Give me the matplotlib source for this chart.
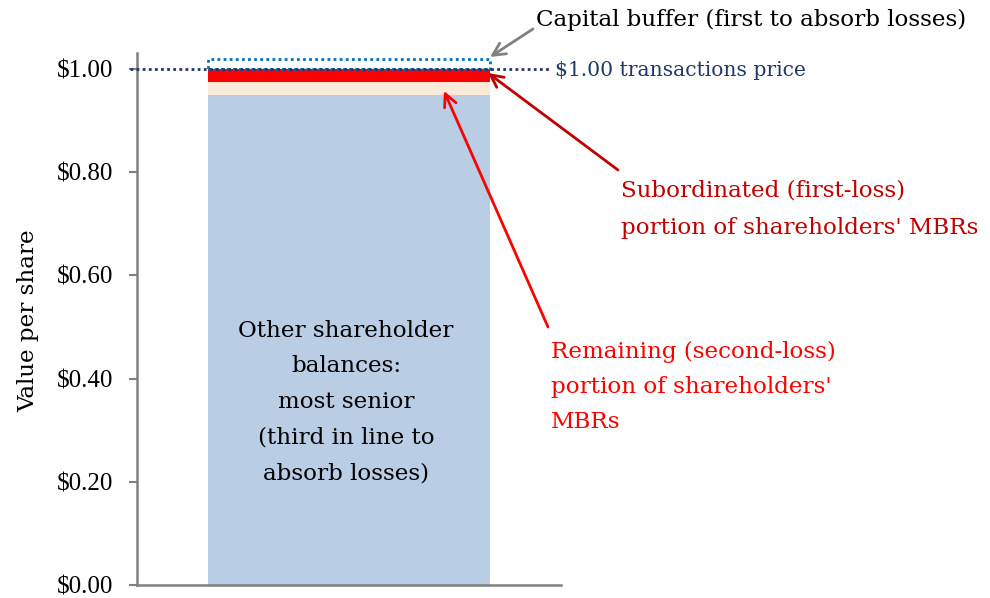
import matplotlib
matplotlib.use("Agg")
import matplotlib.pyplot as plt
from matplotlib.ticker import FuncFormatter

# Data
segments = ["Other shareholder balances", "Remaining (second-loss)", "Subordinated (first-loss)"]
values = [0.95, 0.025, 0.025]
seg_colors = ["#B9CDE5", "#FDE9D9", "#FF0000"]
buffer_value = 0.02
price = 1.00
yticks = [0.0, 0.2, 0.4, 0.6, 0.8, 1.0]

W, H = 990, 598
fig = plt.figure(figsize=(W / 100, H / 100), dpi=100)
L, R, B, T = 137, 561, 585, 53
ax = fig.add_axes([L / W, 1 - B / H, (R - L) / W, (B - T) / H])

ppu = (B - 69) / 1.0
ymax = (B - T) / ppu
ax.set_ylim(0, ymax)
ax.set_xlim(-0.5, 0.5)

def px2d(px, py):
    return ((px - L) / (R - L) - 0.5, (B - py) / ppu)

bw = 0.663
bottom = 0.0
for v, c in zip(values, seg_colors):
    ax.bar(0, v, bottom=bottom, width=bw, color=c, edgecolor="none", zorder=2)
    bottom += v

# capital buffer dotted box
ax.bar(0, buffer_value, bottom=price, width=bw, fill=False, edgecolor="#0070C0",
       linestyle=(0, (1, 1.2)), linewidth=2, zorder=3, clip_on=False)

# price line
x0, _ = px2d(130, 0)
x1, _ = px2d(550, 0)
ax.plot([x0, x1], [price, price], color="#1F3864", linestyle=(0, (1, 1.2)),
        linewidth=2, clip_on=False, zorder=4)

for s in ["top", "right"]:
    ax.spines[s].set_visible(False)
for s in ["left", "bottom"]:
    ax.spines[s].set_color("#808080")
    ax.spines[s].set_linewidth(1.8)

ax.set_xticks([])
ax.set_yticks(yticks)
ax.yaxis.set_major_formatter(FuncFormatter(lambda v, p: f"${v:.2f}"))
ax.tick_params(axis="y", direction="out", length=6, width=1.5, color="#808080",
               labelsize=18, pad=11)
for lab in ax.get_yticklabels():
    lab.set_family("Liberation Serif")

serif = "DejaVu Serif"
fs = 16.6

fig.text(28 / W, 1 - 321 / H, "Value per share", rotation=90, ha="center", va="center",
         family=serif, fontsize=fs)

tx, ty = px2d(536, 20)
ax.text(tx, ty, "Capital buffer (first to absorb losses)", ha="left", va="center",
        family=serif, fontsize=fs, color="black", clip_on=False)
tx, ty = px2d(555, 71)
ax.text(tx, ty, "$1.00 transactions price", ha="left", va="center",
        family=serif, fontsize=14.6, color="#1F3864", clip_on=False)
tx, ty = px2d(621, 209)
ax.text(tx, ty, "Subordinated (first-loss)\nportion of shareholders' MBRs", ha="left",
        va="center", family=serif, fontsize=fs, color="#C00000", linespacing=1.9,
        clip_on=False)
tx, ty = px2d(551, 387)
ax.text(tx, ty, "Remaining (second-loss)\nportion of shareholders'\nMBRs", ha="left",
        va="center", family=serif, fontsize=fs, color="#FF0000", linespacing=1.74,
        clip_on=False)
tx, ty = px2d(346, 402)
ax.text(tx, ty, "Other shareholder\nbalances:\nmost senior\n(third in line to\nabsorb losses)",
        ha="center", va="center", family=serif, fontsize=fs, color="black",
        linespacing=1.8, zorder=5)

def arrow(tip, start, color):
    ax.annotate("", xy=px2d(*tip), xytext=px2d(*start), annotation_clip=False,
                arrowprops=dict(arrowstyle="->,head_length=0.9,head_width=0.45",
                                color=color, lw=2, shrinkA=0, shrinkB=0))

arrow((490, 57), (533, 29), "#808080")
arrow((488, 73), (618, 170), "#C00000")
arrow((444, 91), (548, 327), "#FF0000")

fig.savefig("out.png", dpi=100)
